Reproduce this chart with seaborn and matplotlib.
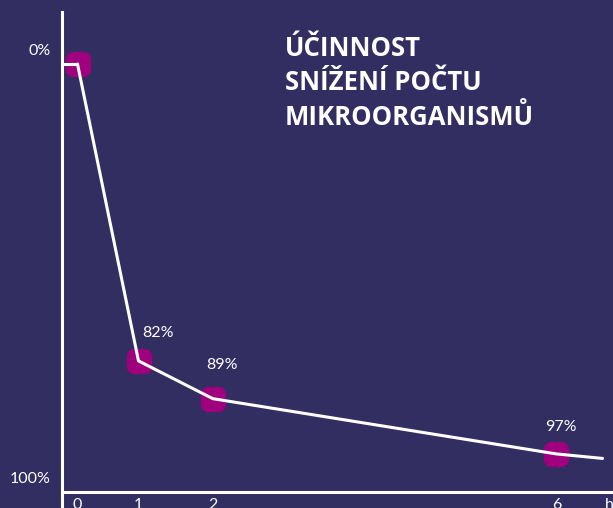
import numpy as np
import matplotlib
matplotlib.use("Agg")
import matplotlib.pyplot as plt
import seaborn as sns

# data read from the infographic
hours = [0, 1, 2, 6]
reduction = [0, 82, 89, 97]
point_labels = ["", "82%", "89%", "97%"]
line_hours = [0, 1, 2, 6, 6.5]
line_reduction = [0, 82, 89, 97, 97.5]
x_ticks = [0, 1, 2, 6]
x_tick_labels = ["0", "1", "2", "6"]
y_ticks = [0, 100]
y_tick_labels = ["0%", "100%"]
title = "ÚČINNOST\nSNÍŽENÍ POČTU\nMIKROORGANISMŮ"

bg = "#332e62"
magenta = "#a0007d"
W, H = 613, 508

# the original is drawn schematically, so both axes are slightly non-linear
XP = 1.15
YQ = 0.69

def fx(x):
    x = np.asarray(x, float)
    return np.sign(x) * np.abs(x) ** XP

def fx_inv(t):
    t = np.asarray(t, float)
    return np.sign(t) * np.abs(t) ** (1 / XP)

def fy(v):
    r = 1 - np.asarray(v, float) / 100
    return 1 - np.sign(r) * np.abs(r) ** YQ

def fy_inv(g):
    r = 1 - np.asarray(g, float)
    return 100 * (1 - np.sign(r) * np.abs(r) ** (1 / YQ))

sns.set_style("white")
plt.rcParams["font.family"] = ["Lato", "DejaVu Sans"]

fig = plt.figure(figsize=(W / 100, H / 100), dpi=100, facecolor=bg)
ax = fig.add_axes([62 / W, 0, (611 - 62) / W, (H - 12) / H])
ax.set_facecolor(bg)
ax.set_xscale("function", functions=(fx, fx_inv))
ax.set_yscale("function", functions=(fy, fy_inv))

# limits: 0 h sits 15.5 px right of the y axis, one scale unit = 61 px
ax.set_xlim(fx_inv((62 - 77.5) / 61), fx_inv((611 - 77.5) / 61))
ax.set_ylim(fy_inv((H - 64) / 428), fy_inv((12 - 64) / 428))

lw = 2.2
sns.scatterplot(x=hours, y=reduction, marker="s", s=60, color=magenta,
                edgecolor=magenta, linewidth=11, zorder=3, ax=ax, legend=False)
ax.collections[-1].set_joinstyle("round")

sns.lineplot(x=line_hours, y=line_reduction, color="white", lw=lw,
             estimator=None, zorder=4, ax=ax)
ax.plot([ax.get_xlim()[0], hours[0]], [reduction[0], reduction[0]],
        color="white", lw=lw, zorder=4, solid_capstyle="butt")

label_offsets = [(0, 0), (14, 20), (6.5, 24), (3.5, 19.5)]
for h, v, txt, off in zip(hours, reduction, point_labels, label_offsets):
    if txt:
        ax.annotate(txt, (h, v), xytext=off, textcoords="offset points",
                    ha="center", va="center", color="white", fontsize=11.5)

# axes
for s in ["top", "right"]:
    ax.spines[s].set_visible(False)
ax.spines["bottom"].set_position(("data", 100))
for s in ["left", "bottom"]:
    ax.spines[s].set_color("white")
    ax.spines[s].set_linewidth(lw)

ax.set_yticks(y_ticks)
ax.set_yticklabels([])
ax.tick_params(axis="y", direction="out", length=18, width=lw, color="white")
for v, txt in zip(y_ticks, y_tick_labels):
    ax.annotate(txt, (0, v), xycoords=("axes fraction", "data"),
                xytext=(-8, 6.5), textcoords="offset points",
                ha="right", va="baseline", color="white", fontsize=11.5)

ax.set_xticks(x_ticks)
ax.set_xticklabels(x_tick_labels)
ax.tick_params(axis="x", length=0, pad=4, labelcolor="white", labelsize=11.5)
ax.annotate("h", (1, 100), xycoords=("axes fraction", "data"),
            xytext=(-1.5, -4), textcoords="offset points",
            ha="center", va="top", color="white", fontsize=11.5)
ax.set_xlabel("")
ax.set_ylabel("")

fig.text(285 / W, 1 - 35 / H, title, ha="left", va="top", color="white",
         fontsize=18.5, fontweight="bold", family=["Open Sans", "DejaVu Sans"],
         linespacing=1.35)

fig.savefig("out.png", dpi=100, facecolor=bg)
